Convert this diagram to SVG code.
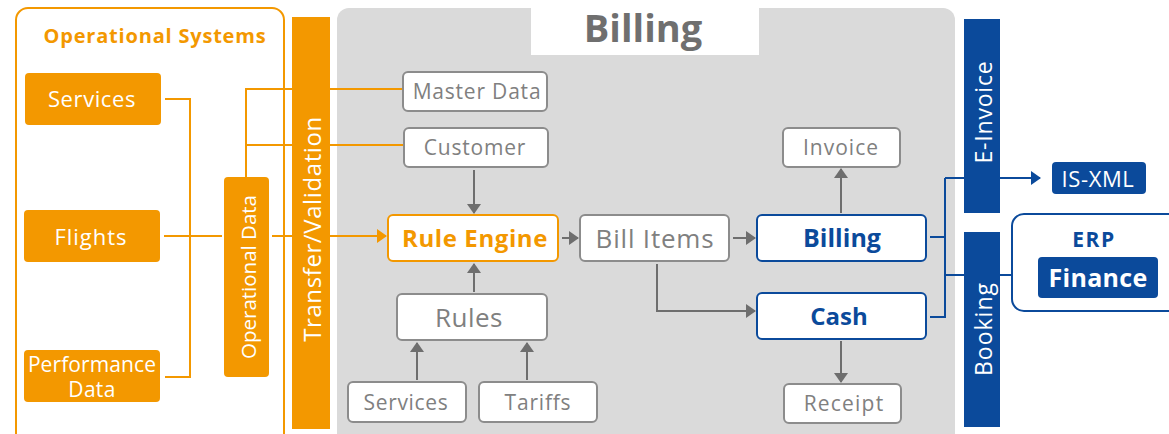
<svg xmlns="http://www.w3.org/2000/svg" width="1169" height="434" viewBox="0 0 1169 434">
<style>
text{font-family:"Open Sans","Noto Sans","DejaVu Sans",sans-serif;}
.or{fill:#F39800;}
.orbox{fill:#F39800;}
.wt{fill:#ffffff;}
.gbox{fill:#ffffff;stroke:#8c8c8c;stroke-width:2;}
.gt{fill:#808080;}
.bbox{fill:#ffffff;stroke:#0B4A9B;stroke-width:2;}
.bt{fill:#0B4A9B;}
.olink{fill:none;stroke:#F39800;stroke-width:2;}
.glink{fill:none;stroke:#6e6e6e;stroke-width:2;}
.blink{fill:none;stroke:#0B4A9B;stroke-width:2;}
</style>
<defs>
<marker id="ag" markerUnits="userSpaceOnUse" markerWidth="10" markerHeight="14" viewBox="0 0 10 14" refX="9" refY="7" orient="auto"><path d="M0,0 L10,7 L0,14 z" fill="#6e6e6e"/></marker>
<marker id="ao" markerUnits="userSpaceOnUse" markerWidth="10" markerHeight="14" viewBox="0 0 10 14" refX="9" refY="7" orient="auto"><path d="M0,0 L10,7 L0,14 z" fill="#F39800"/></marker>
<marker id="ab" markerUnits="userSpaceOnUse" markerWidth="10" markerHeight="14" viewBox="0 0 10 14" refX="9" refY="7" orient="auto"><path d="M0,0 L10,7 L0,14 z" fill="#0B4A9B"/></marker>
</defs>
<rect width="1169" height="434" fill="#ffffff"/>

<g id="billing-panel">
<rect x="337" y="8" width="618" height="440" rx="12" fill="#DADADA"/>
<rect x="531" y="0" width="228" height="55" fill="#ffffff"/>
<text x="643" y="42" text-anchor="middle" font-size="38" font-weight="bold" fill="#6f6f6f">Billing</text>
</g>

<g id="operational-systems">
<rect x="16" y="8" width="268" height="440" rx="12" fill="none" stroke="#F39800" stroke-width="2"/>
<text x="155" y="43" text-anchor="middle" font-size="20" font-weight="bold" letter-spacing="0.8" class="or">Operational Systems</text>
</g>

<g id="connectors">
<polyline class="olink" points="165,99 190,99 190,377 165,377"/>
<line class="olink" x1="164" y1="236" x2="222" y2="236"/>
<polyline class="olink" points="403,89 246,89 246,177"/>
<line class="olink" x1="246" y1="145" x2="404" y2="145"/>
<line class="olink" x1="272" y1="236" x2="386" y2="236" marker-end="url(#ao)"/>
<line class="glink" x1="474" y1="170" x2="474" y2="213" marker-end="url(#ag)"/>
<line class="glink" x1="474" y1="292" x2="474" y2="264" marker-end="url(#ag)"/>
<line class="glink" x1="417" y1="380" x2="417" y2="343" marker-end="url(#ag)"/>
<line class="glink" x1="527" y1="380" x2="527" y2="343" marker-end="url(#ag)"/>
<line class="glink" x1="562" y1="238" x2="578" y2="238" marker-end="url(#ag)"/>
<line class="glink" x1="733" y1="238" x2="755" y2="238" marker-end="url(#ag)"/>
<polyline class="glink" points="657,264 657,311 755,311" marker-end="url(#ag)"/>
<line class="glink" x1="841" y1="213" x2="841" y2="169" marker-end="url(#ag)"/>
<line class="glink" x1="841" y1="341" x2="841" y2="382" marker-end="url(#ag)"/>
<polyline class="blink" points="930,237 945,237"/>
<polyline class="blink" points="930,317 945,317 945,178"/>
<line class="blink" x1="945" y1="178" x2="1040" y2="178" marker-end="url(#ab)"/>
<line class="blink" x1="945" y1="275" x2="1036" y2="275" marker-end="url(#ab)"/>
</g>

<g id="services">
<rect x="25" y="73" width="136" height="52" rx="4" class="orbox"/>
<text x="92" y="107" text-anchor="middle" font-size="22" letter-spacing="0.6" class="wt">Services</text>
</g>
<g id="flights">
<rect x="24" y="210" width="136" height="52" rx="4" class="orbox"/>
<text x="91" y="245" text-anchor="middle" font-size="22" letter-spacing="1" class="wt">Flights</text>
</g>
<g id="performance-data">
<rect x="24" y="350" width="136" height="52" rx="4" class="orbox"/>
<text x="92" y="372" text-anchor="middle" font-size="21" letter-spacing="0.1" class="wt">Performance</text>
<text x="92" y="397" text-anchor="middle" font-size="21" letter-spacing="0.3" class="wt">Data</text>
</g>
<g id="operational-data">
<rect x="224" y="177" width="45" height="200" rx="4" class="orbox"/>
<text transform="translate(256,277) rotate(-90)" text-anchor="middle" font-size="20.5" class="wt">Operational Data</text>
</g>
<g id="transfer-validation">
<rect x="292" y="17" width="38" height="412" class="orbox"/>
<text transform="translate(321,229) rotate(-90)" text-anchor="middle" font-size="24" letter-spacing="0.6" class="wt">Transfer/Validation</text>
</g>

<g id="master-data">
<rect x="403" y="72" width="144" height="39" rx="5" class="gbox"/>
<text x="477" y="99" text-anchor="middle" font-size="21" letter-spacing="0.8" class="gt">Master Data</text>
</g>
<g id="customer">
<rect x="404" y="128" width="144" height="39" rx="5" class="gbox"/>
<text x="475" y="155" text-anchor="middle" font-size="21" letter-spacing="0.8" class="gt">Customer</text>
</g>
<g id="rule-engine">
<rect x="388" y="215" width="170" height="46" rx="5" fill="#ffffff" stroke="#F39800" stroke-width="2"/>
<text x="475" y="247" text-anchor="middle" font-size="24" font-weight="bold" letter-spacing="0.6" class="or">Rule Engine</text>
</g>
<g id="rules">
<rect x="397" y="294" width="150" height="46" rx="5" class="gbox"/>
<text x="469" y="327" text-anchor="middle" font-size="26" letter-spacing="0.5" class="gt">Rules</text>
</g>
<g id="services-2">
<rect x="348" y="382" width="118" height="40" rx="5" class="gbox"/>
<text x="406" y="410" text-anchor="middle" font-size="21" letter-spacing="0.7" class="gt">Services</text>
</g>
<g id="tariffs">
<rect x="479" y="382" width="118" height="40" rx="5" class="gbox"/>
<text x="538" y="410" text-anchor="middle" font-size="21" letter-spacing="0.8" class="gt">Tariffs</text>
</g>
<g id="bill-items">
<rect x="580" y="215" width="149" height="46" rx="5" class="gbox"/>
<text x="655" y="248" text-anchor="middle" font-size="26" letter-spacing="0.8" class="gt">Bill Items</text>
</g>
<g id="billing">
<rect x="757" y="215" width="169" height="46" rx="5" class="bbox"/>
<text x="842" y="247" text-anchor="middle" font-size="25" font-weight="bold" class="bt">Billing</text>
</g>
<g id="cash">
<rect x="757" y="293" width="169" height="46" rx="5" class="bbox"/>
<text x="839" y="325" text-anchor="middle" font-size="24" font-weight="bold" class="bt">Cash</text>
</g>
<g id="invoice">
<rect x="783" y="128" width="117" height="39" rx="5" class="gbox"/>
<text x="841" y="155" text-anchor="middle" font-size="21" letter-spacing="1" class="gt">Invoice</text>
</g>
<g id="receipt">
<rect x="784" y="384" width="117" height="39" rx="5" class="gbox"/>
<text x="844" y="411" text-anchor="middle" font-size="21" letter-spacing="1.2" class="gt">Receipt</text>
</g>

<g id="e-invoice">
<rect x="964" y="19" width="36" height="194" fill="#0B4A9B"/>
<text transform="translate(992,112) rotate(-90)" text-anchor="middle" font-size="23" letter-spacing="0.8" class="wt">E-Invoice</text>
</g>
<g id="booking">
<rect x="964" y="232" width="36" height="195" fill="#0B4A9B"/>
<text transform="translate(992,329) rotate(-90)" text-anchor="middle" font-size="23" letter-spacing="1" class="wt">Booking</text>
</g>
<g id="is-xml">
<rect x="1052" y="162" width="94" height="32" rx="4" fill="#0B4A9B"/>
<text x="1098" y="187" text-anchor="middle" font-size="22" letter-spacing="0.6" class="wt">IS-XML</text>
</g>
<g id="erp">
<rect x="1012" y="214" width="170" height="97" rx="12" fill="#ffffff" stroke="#0B4A9B" stroke-width="2"/>
<text x="1094" y="247" text-anchor="middle" font-size="21" font-weight="bold" letter-spacing="1.5" class="bt">ERP</text>
</g>
<g id="finance">
<rect x="1038" y="257" width="120" height="41" rx="4" fill="#0B4A9B"/>
<text x="1098" y="287" text-anchor="middle" font-size="25" font-weight="bold" letter-spacing="0.3" class="wt">Finance</text>
</g>
</svg>
